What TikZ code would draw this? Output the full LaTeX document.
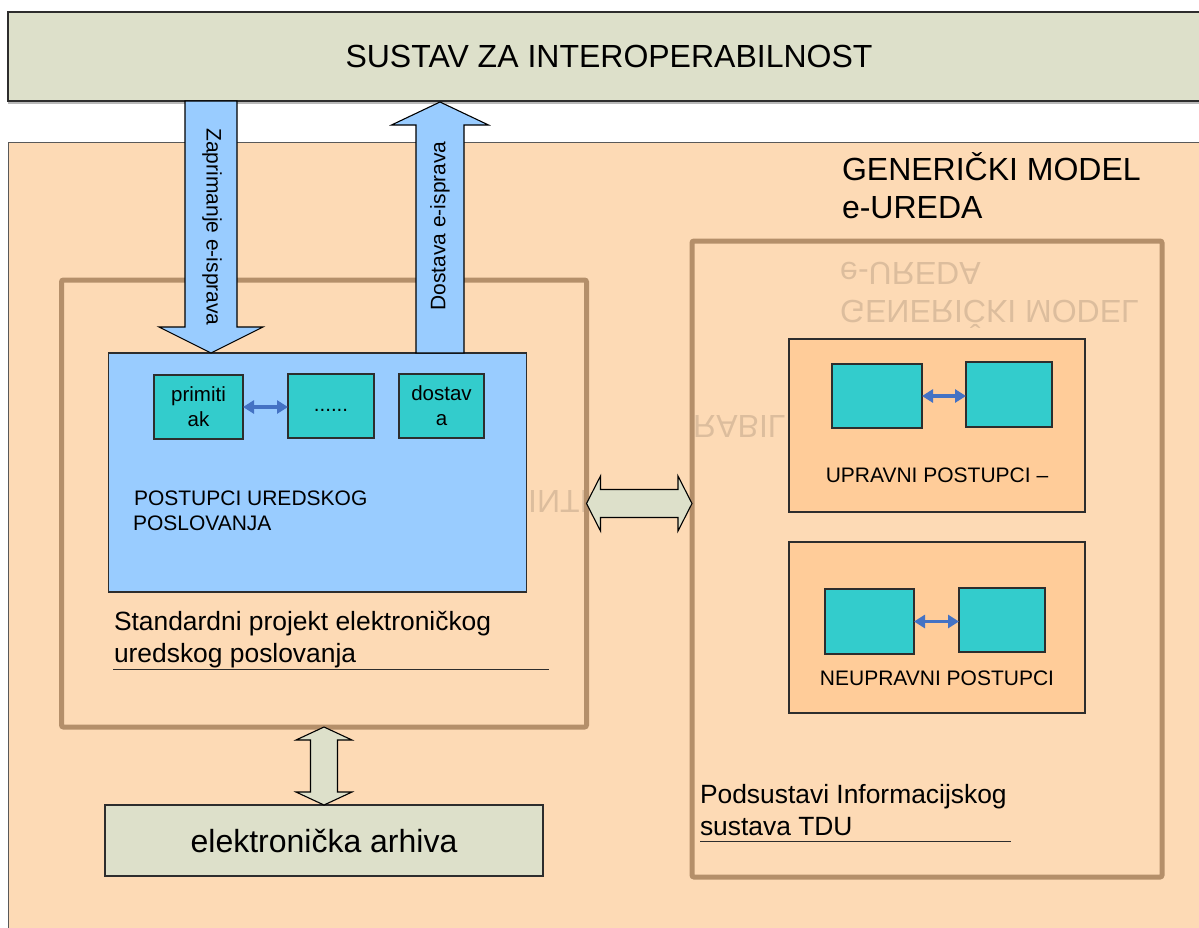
\documentclass[tikz,border=0pt]{standalone}
\usepackage{fontspec}
\setmainfont{Liberation Sans}
\usetikzlibrary{arrows.meta,calc}

\definecolor{bannerfill}{RGB}{221,224,202}
\definecolor{peach}{RGB}{253,218,181}
\definecolor{brownline}{RGB}{180,143,106}
\definecolor{skyfill}{RGB}{153,204,255}
\definecolor{tealfill}{RGB}{51,204,204}
\definecolor{apricot}{RGB}{255,204,153}
\definecolor{linkblue}{RGB}{68,114,196}
\definecolor{edgegrey}{RGB}{45,45,45}

\tikzset{
  txtXL/.style={font=\fontsize{32}{38}\selectfont},
  txtL/.style={font=\fontsize{26.4}{32}\selectfont},
  txtM/.style={font=\fontsize{21}{25}\selectfont},
  txtS/.style={font=\fontsize{20.5}{25}\selectfont},
  plainbox/.style={rectangle, draw=edgegrey, line width=1.3pt, inner sep=0pt, outer sep=0pt},
  frame/.style={rectangle, draw=brownline, line width=5pt, rounded corners=2pt,
    inner sep=0pt, outer sep=0pt},
  tealbox/.style={plainbox, fill=tealfill, align=center, txtS},
  subsys/.style={plainbox, fill=apricot, line width=1.2pt},
  blockarrow/.style={draw=black, line width=1.1pt, line join=miter},
  link/.style={draw=linkblue, line width=3.5pt,
    {Triangle[length=11pt,width=13pt]}-{Triangle[length=11pt,width=13pt]}},
  label/.style={inner sep=0pt, outer sep=0pt},
  ghost/.style={inner sep=0pt, text=black, text opacity=0.13, txtXL},
  rule/.style={draw=edgegrey, line width=1pt}
}

\begin{document}
\begin{tikzpicture}[x=1pt,y=-1pt]
\useasboundingbox (0,0) rectangle (1199,927);
\clip (0,0) rectangle (1199,927);
\fill[white] (0,0) rectangle (1199,927);

% interoperability banner
\draw[gray!55, line width=1.6pt] (8,103) -- (1199,103);
\node[plainbox, fill=bannerfill, line width=1.5pt, minimum width=1202pt,
      minimum height=89pt, txtXL] (banner) at (609,56.5) {SUSTAV ZA INTEROPERABILNOST};

% peach panel of the generic model
\node[rectangle, draw=gray!70!black, line width=1.2pt, fill=peach, inner sep=0pt,
      minimum width=1212pt, minimum height=800pt, anchor=north west] (panel) at (8,142) {};

% reflections of the titles
\begin{scope}
  \clip (527,470) rectangle (585,530);
  \node[ghost, anchor=base west, yscale=-1] (ghostA) at (528,490) {INTE};
\end{scope}
\begin{scope}
  \clip (690,400) rectangle (788,450);
  \node[ghost, anchor=base west, yscale=-1] (ghostB) at (693,415) {RABILN};
\end{scope}
\node[ghost, anchor=base west, yscale=-1] (ghostC) at (840,262) {e-UREDA};
\node[ghost, anchor=base west, yscale=-1] (ghostD) at (840,300) {GENERIČKI MODEL};

% title of the model
\node[label, txtXL, anchor=base west] (gen1) at (842,180) {GENERIČKI MODEL};
\node[label, txtXL, anchor=base west] (gen2) at (842,218) {e-UREDA};

% the two frames
\node[frame, minimum width=525pt, minimum height=447pt] (stdframe) at (324,503.5) {};
\node[frame, minimum width=470pt, minimum height=636pt] (tduframe) at (927,559) {};

% office procedures
\node[plainbox, fill=skyfill, minimum width=418pt, minimum height=239pt] (office) at (317.5,472.5) {};
\node[tealbox, minimum width=89pt, minimum height=64pt] (recv) at (198.5,407) {primiti\\ak};
\node[tealbox, minimum width=86pt, minimum height=64pt] (mid) at (331,406) {\strut......};
\node[tealbox, minimum width=85pt, minimum height=64pt] (send) at (441.5,406) {dostav\\a};
\draw[link] (recv.east) -- (recv.east -| mid.west);

\node[label, txtM, anchor=base west] (proc1) at (134,505) {POSTUPCI UREDSKOG};
\node[label, txtM, anchor=base west] (proc2) at (133,530) {POSLOVANJA};

\node[label, txtL, anchor=base west] (std1) at (114,630) {Standardni projekt elektroničkog};
\node[label, txtL, anchor=base west] (std2) at (114,662) {uredskog poslovanja};
\coordinate (stdRuleA) at (113,669);
\coordinate (stdRuleB) at (549,669);
\draw[rule] (stdRuleA) -- (stdRuleB);

% receiving and sending of e-documents
\coordinate (zTop) at (211,101);
\coordinate (zTip) at (211,353);
\draw[blockarrow, fill=skyfill]
  ($(zTop)+(-26,0)$) -- ($(zTip)+(-26,-26)$) -- ($(zTip)+(-52,-26)$) -- (zTip)
  -- ($(zTip)+(52,-26)$) -- ($(zTip)+(26,-26)$) -- ($(zTop)+(26,0)$) -- cycle;
\node[label, txtM, rotate=-90] (zText) at (212,227) {Zaprimanje e-isprava};

\coordinate (dBase) at (440,353);
\coordinate (dTip) at (440,102);
\draw[blockarrow, fill=skyfill]
  ($(dBase)+(-24,0)$) -- ($(dTip)+(-24,23)$) -- ($(dTip)+(-48.5,23)$) -- (dTip)
  -- ($(dTip)+(48.5,23)$) -- ($(dTip)+(24,23)$) -- ($(dBase)+(24,0)$) -- cycle;
\node[label, txtM, rotate=90] (dText) at (440,226) {Dostava e-isprava};

% administrative procedures
\node[subsys, minimum width=296pt, minimum height=173pt] (upr) at (937,425.5) {};
\node[tealbox, minimum width=90pt, minimum height=64pt] (upr1) at (877,396) {};
\node[tealbox, minimum width=86pt, minimum height=65pt] (upr2) at (1009,394.5) {};
\draw[link] (upr1.east) -- (upr1.east -| upr2.west);
\node[label, txtM, anchor=base] (uprText) at (937,482) {UPRAVNI POSTUPCI –};

% non-administrative procedures
\node[subsys, minimum width=296pt, minimum height=171pt] (neu) at (937,627.5) {};
\node[tealbox, minimum width=89pt, minimum height=65pt] (neu1) at (869.5,621.5) {};
\node[tealbox, minimum width=86pt, minimum height=64pt] (neu2) at (1002,620) {};
\draw[link] (neu1.east) -- (neu1.east -| neu2.west);
\node[label, txtM, anchor=base] (neuText) at (937,685) {NEUPRAVNI POSTUPCI};

\node[label, txtL, anchor=base west] (tdu1) at (700,803) {Podsustavi Informacijskog};
\node[label, txtL, anchor=base west] (tdu2) at (700,835) {sustava TDU};
\coordinate (tduRuleA) at (700,841);
\coordinate (tduRuleB) at (1011,841);
\draw[rule] (tduRuleA) -- (tduRuleB);

% electronic archive
\node[plainbox, fill=bannerfill, minimum width=438pt, minimum height=71pt, txtXL] (arch) at (324,840.5) {elektronička arhiva};

% exchange arrows
\coordinate (vT) at (stdframe.south);
\coordinate (vB) at (arch.north);
\draw[blockarrow, fill=bannerfill]
  (vT) -- ($(vT)+(28,13)$) -- ($(vT)+(13.5,13)$) -- ($(vB)+(13.5,-13)$) -- ($(vB)+(28,-13)$)
  -- (vB) -- ($(vB)+(-28,-13)$) -- ($(vB)+(-13.5,-13)$) -- ($(vT)+(-13.5,13)$)
  -- ($(vT)+(-28,13)$) -- cycle;

\coordinate (hL) at (stdframe.east);
\coordinate (hR) at (stdframe.east -| tduframe.west);
\draw[blockarrow, fill=bannerfill]
  (hL) -- ($(hL)+(14,-27.5)$) -- ($(hL)+(14,-14)$) -- ($(hR)+(-14,-14)$) -- ($(hR)+(-14,-27.5)$)
  -- (hR) -- ($(hR)+(-14,27.5)$) -- ($(hR)+(-14,14)$) -- ($(hL)+(14,14)$)
  -- ($(hL)+(14,27.5)$) -- cycle;
\end{tikzpicture}
\end{document}
